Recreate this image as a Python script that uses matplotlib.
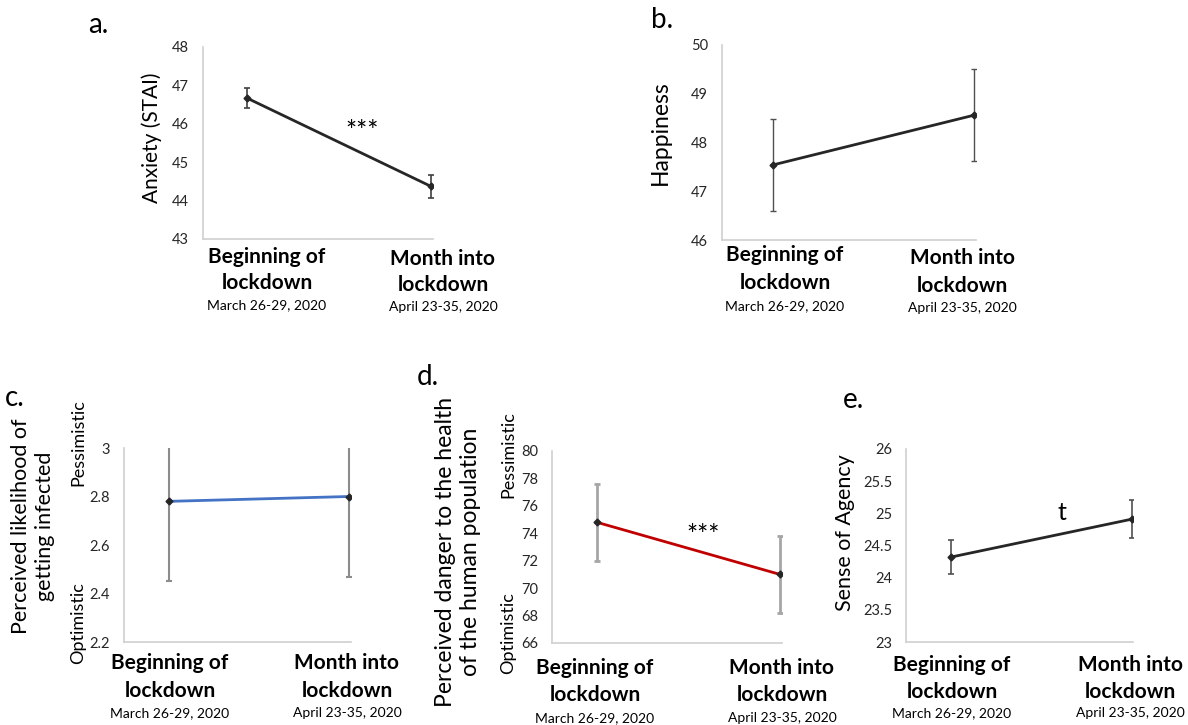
import matplotlib
matplotlib.use('Agg')
import matplotlib.pyplot as plt

plt.rcParams['font.family'] = ['Lato', 'DejaVu Sans']

W, H = 1188, 725

time_points = [0, 1]
cat_line1 = ['Beginning of', 'Month into']
cat_line2 = ['lockdown', 'lockdown']
dates = ['March 26-29, 2020', 'April 23-35, 2020']

# panel data
anxiety = [46.67, 44.37]
anxiety_err = [0.26, 0.30]
happiness = [47.54, 48.56]
happiness_err = [0.95, 0.94]
infected = [2.78, 2.80]
infected_err = [0.33, 0.33]
danger = [74.8, 71.0]
danger_err = [2.8, 2.8]
agency = [24.32, 24.91]
agency_err = [0.26, 0.30]

fig = plt.figure(figsize=(W / 100, H / 100), dpi=100)


def px_axes(left, right, top, bottom):
    return fig.add_axes([left / W, 1 - bottom / H, (right - left) / W, (bottom - top) / H])


def fx(x):
    return x / W


def fy(y):
    return 1 - y / H


def panel(box, vals, errs, ylim, yticks, ticklabels, color, ecolor, elw,
          p1, p2, label_x, label_y, date_y, letter, letter_xy,
          ylabel, ylabel_xy, ylabel_size, capsize=2.5):
    left, right, top, bottom = box
    ax = px_axes(left, right, top, bottom)
    # point pixel positions -> data xlim
    span = right - left
    f1 = (p1 - left) / span
    f2 = (p2 - left) / span
    unit = f2 - f1
    ax.set_xlim(-f1 / unit, (1 - f1) / unit)
    ax.errorbar(time_points, vals, yerr=errs, color=color, lw=2,
                marker='D', ms=3.5, mfc='#262626', mec='#262626',
                ecolor=ecolor, elinewidth=elw, capsize=capsize, capthick=elw)
    ax.set_ylim(*ylim)
    ax.set_yticks(yticks)
    ax.set_yticklabels(ticklabels, fontsize=10.5, color='#262626')
    ax.set_xticks([])
    ax.tick_params(axis='y', length=0, pad=10)
    for s in ['top', 'right']:
        ax.spines[s].set_visible(False)
    for s in ['left', 'bottom']:
        ax.spines[s].set_color('#d0d0d0')
        ax.spines[s].set_linewidth(1.2)
    for i in range(2):
        fig.text(fx(label_x[i]), fy(label_y[0][i]), cat_line1[i], ha='center',
                 va='center', fontsize=15, fontweight='bold')
        fig.text(fx(label_x[i]), fy(label_y[1][i]), cat_line2[i], ha='center',
                 va='center', fontsize=15, fontweight='bold')
        fig.text(fx(label_x[i]), fy(date_y[i]), dates[i], ha='center',
                 va='center', fontsize=10)
    fig.text(fx(letter_xy[0]), fy(letter_xy[1]), letter, ha='center',
             va='center', fontsize=20)
    fig.text(fx(ylabel_xy[0]), fy(ylabel_xy[1]), ylabel, ha='center',
             va='center', fontsize=ylabel_size, rotation=90, linespacing=1.2)
    return ax


# a.
ax_a = panel((203, 433, 47, 239), anxiety, anxiety_err, (43, 48), range(43, 49),
             [str(v) for v in range(43, 49)], '#262626', '#404040', 1.2,
             247, 431, [267, 443], [[257, 259], [283, 285]], [305, 307],
             'a.', (98, 25), 'Anxiety (STAI)', (152, 138), 15)
fig.text(fx(362), fy(133), '***', ha='center', va='center', fontsize=19)

# b.
ax_b = panel((722, 976, 45, 240), happiness, happiness_err, (46, 50), range(46, 51),
             [str(v) for v in range(46, 51)], '#262626', '#505050', 1.0,
             773, 974, [785, 962], [[255, 258], [283, 286]], [306, 308],
             'b.', (662, 20), 'Happiness', (660, 133), 16.5)

# c.
ax_c = panel((124, 351, 448, 642), infected, infected_err, (2.2, 3.0),
             [2.2, 2.4, 2.6, 2.8, 3.0], ['2.2', '2.4', '2.6', '2.8', '3'],
             '#4472c4', '#8c8c8c', 1.5,
             169, 349, [170, 347], [[663, 663], [691, 691]], [713, 713],
             'c.', (15, 398), 'Perceived likelihood of\ngetting infected', (33, 526), 15.5)
fig.text(fx(78), fy(443), 'Pessimistic', ha='center', va='center', fontsize=13, rotation=90)
fig.text(fx(78), fy(623), 'Optimistic', ha='center', va='center', fontsize=13, rotation=90)

# d.
ax_d = panel((552, 782, 451, 643), danger, danger_err, (66, 80), range(66, 81, 2),
             [str(v) for v in range(66, 81, 2)], '#c00000', '#a6a6a6', 2.0,
             597, 780, [595, 782], [[668, 668], [695, 695]], [718, 718],
             'd.', (428, 377), 'Perceived danger to the health\nof the human population',
             (458, 552), 16.5)
fig.text(fx(508), fy(455), 'Pessimistic', ha='center', va='center', fontsize=13, rotation=90)
fig.text(fx(508), fy(633), 'Optimistic', ha='center', va='center', fontsize=13, rotation=90)
fig.text(fx(703), fy(537), '***', ha='center', va='center', fontsize=19)

# e.
ax_e = panel((906, 1133, 449, 642), agency, agency_err, (23, 26),
             [23, 23.5, 24, 24.5, 25, 25.5, 26],
             ['23', '23.5', '24', '24.5', '25', '25.5', '26'],
             '#262626', '#505050', 1.2,
             951, 1132, [952, 1130], [[665, 665], [692, 692]], [713, 713],
             'e.', (853, 400), 'Sense of Agency', (845, 533), 15.5)
fig.text(fx(1062), fy(513), 't', ha='center', va='center', fontsize=18)

fig.savefig('out.png', dpi=100)
